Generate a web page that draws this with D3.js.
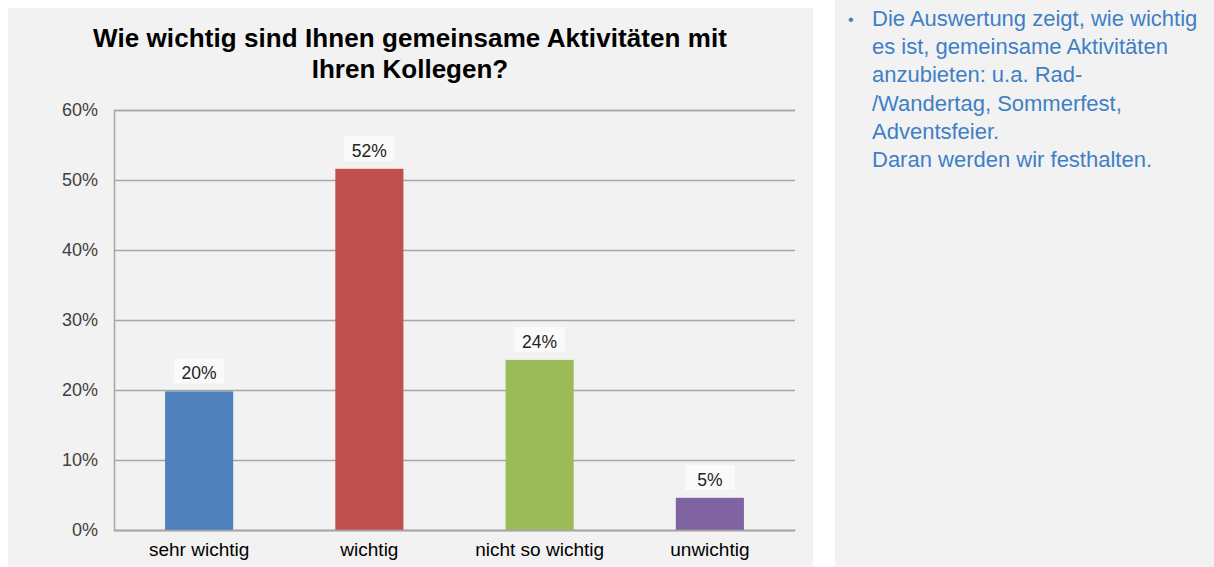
<!DOCTYPE html>
<html>

<head>
  <meta charset="utf-8">
  <title>Gemeinsame Aktivitäten</title>
  <style>
    body { margin: 0; background: #ffffff; }
    svg { display: block; font-family: "Liberation Sans", Arial, sans-serif; }
  </style>
</head>

<body>
  <script src="https://d3js.org/d3.v7.min.js"></script>
  <script>
    // Daten
    var categories = ["sehr wichtig", "wichtig", "nicht so wichtig", "unwichtig"];
    var values = [0.198, 0.516, 0.243, 0.046];
    var barColors = ["#4f81bd", "#c0504d", "#9bbb59", "#8064a2"];
    var yTicks = [0, 0.1, 0.2, 0.3, 0.4, 0.5, 0.6];
    var titleLines = ["Wie wichtig sind Ihnen gemeinsame Aktivitäten mit", "Ihren Kollegen?"];
    var noteLines = ["Die Auswertung zeigt, wie wichtig", "es ist, gemeinsame Aktivitäten",
      "anzubieten: u.a. Rad-", "/Wandertag, Sommerfest,", "Adventsfeier.", "Daran werden wir festhalten."];

    var width = 1214;
    var height = 567;
    var plotLeft = 114, plotRight = 795, plotTop = 110, plotBottom = 530;

    var svg = d3.select("body").append("svg")
      .attr("width", width).attr("height", height);

    // Hintergrundflächen
    svg.append("rect").attr("x", 8).attr("y", 8).attr("width", 805).attr("height", height - 8)
      .attr("fill", "#f2f2f2");
    svg.append("rect").attr("x", 835).attr("y", 0).attr("width", width - 835).attr("height", height)
      .attr("fill", "#f2f2f2");

    var x = d3.scaleBand().domain(categories).range([plotLeft, plotRight])
      .paddingInner(0.6).paddingOuter(0.3);
    var y = d3.scaleLinear().domain([0, 0.6]).range([plotBottom, plotTop]);

    // Titel
    svg.append("g").selectAll("text").data(titleLines).enter().append("text")
      .attr("x", 410).attr("y", function(d, i) { return 47 + i * 31; })
      .attr("text-anchor", "middle")
      .attr("font-size", 26).attr("font-weight", "bold").attr("fill", "#000")
      .attr("textLength", function(d, i) { return i === 0 ? 634 : null; })
      .text(function(d) { return d; });

    // Gitternetz + y-Achse
    var yAxis = d3.axisLeft(y).tickValues(yTicks)
      .tickFormat(d3.format(".0%")).tickSize(-(plotRight - plotLeft)).tickPadding(16);
    var gy = svg.append("g").attr("transform", "translate(" + plotLeft + ",0)").call(yAxis);
    gy.select(".domain").attr("stroke", "#a6a6a6").attr("stroke-width", 1.5);
    gy.selectAll(".tick line").attr("stroke", "#a6a6a6").attr("stroke-width", 1.5);
    gy.selectAll(".tick text").attr("font-size", 18).attr("fill", "#404040")
      .attr("font-family", "Liberation Sans, Arial, sans-serif");

    // Balken
    svg.append("g").selectAll("rect").data(values).enter().append("rect")
      .attr("x", function(d, i) { return x(categories[i]); })
      .attr("width", x.bandwidth())
      .attr("y", function(d) { return y(d); })
      .attr("height", function(d) { return plotBottom - y(d); })
      .attr("fill", function(d, i) { return barColors[i]; });

    // x-Achse
    var xAxis = d3.axisBottom(x).tickSize(0).tickPadding(13);
    var gx = svg.append("g").attr("transform", "translate(0," + plotBottom + ")").call(xAxis);
    gx.select(".domain").attr("stroke", "#a6a6a6").attr("stroke-width", 1.5);
    gx.selectAll(".tick text").attr("font-size", 19).attr("fill", "#000")
      .attr("font-family", "Liberation Sans, Arial, sans-serif");

    // Datenbeschriftungen
    var lab = svg.append("g").selectAll("g").data(values).enter().append("g")
      .attr("transform", function(d, i) {
        return "translate(" + (x(categories[i]) + x.bandwidth() / 2) + "," + (y(d) - 12) + ")";
      });
    lab.append("rect").attr("x", -25).attr("y", -21).attr("width", 50).attr("height", 25)
      .attr("fill", "#fafafa");
    lab.append("text").attr("text-anchor", "middle").attr("font-size", 17.5).attr("fill", "#222")
      .text(function(d) { return Math.round(d * 100) + "%"; });

    // Notiz rechts
    var note = svg.append("g").attr("fill", "#3f7fc6").attr("font-size", 22);
    note.append("text").attr("x", 848).attr("y", 25).text("•").attr("font-size", 16);
    note.selectAll("text.line").data(noteLines).enter().append("text")
      .attr("class", "line")
      .attr("x", 872).attr("y", function(d, i) { return 26 + i * 28.2; })
      .text(function(d) { return d; });
  </script>
</body>

</html>
